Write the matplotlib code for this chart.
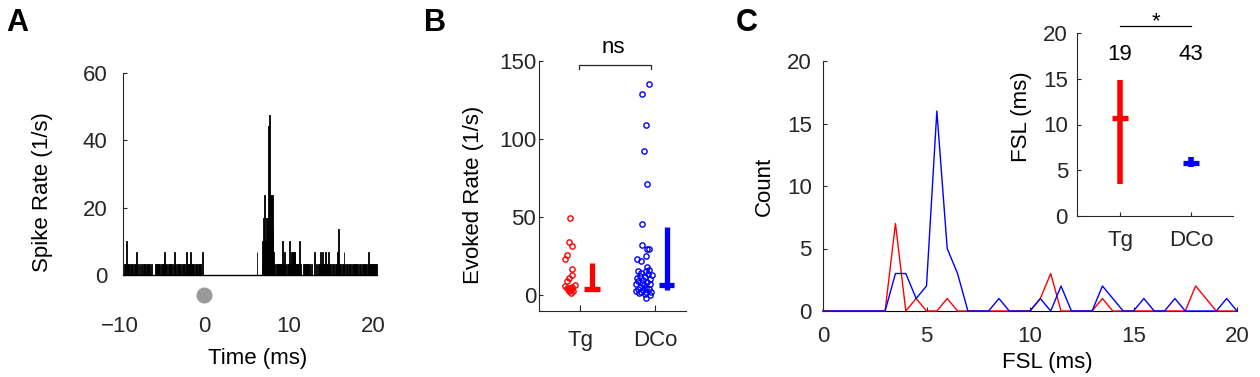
import matplotlib
matplotlib.use('Agg')
import matplotlib.pyplot as plt
import numpy as np

plt.rcParams['font.family'] = ['Liberation Sans', 'DejaVu Sans']
plt.rcParams['axes.edgecolor'] = '#262626'
plt.rcParams['xtick.color'] = '#262626'
plt.rcParams['ytick.color'] = '#262626'
plt.rcParams['axes.linewidth'] = 0.8

RED = '#ff0000'
BLUE = '#0000ff'
TICK_FS = 16
LABEL_FS = 16

# ---- Panel A: PSTH, spikes per 0.1 ms bin (hex digits), one row per ms from -10 to 20
psth_rows = [
    "0000011131",  # -10
    "1101110112",  # -9
    "1101011011",  # -8
    "1011110100",  # -7
    "0011101101",  # -6
    "1112110111",  # -5
    "1101211011",  # -4
    "1110111012",  # -3
    "1112011101",  # -2
    "1101110020",  # -1
    "0000000000",  # 0
    "0000000000",  # 1
    "0000000000",  # 2
    "0000000000",  # 3
    "0000000000",  # 4
    "0000000000",  # 5
    "0020000013",  # 6
    "573545de77",  # 7
    "7421011111",  # 8
    "1131121011",  # 9
    "1312222211",  # 10
    "1131100111",  # 11
    "1111100100",  # 12
    "2010011211",  # 13
    "2112101211",  # 14
    "0111011214",  # 15
    "1101121011",  # 16
    "0111011101",  # 17
    "1101110111",  # 18
    "1101211011",  # 19
    "1111000000",  # 20
]
psth_start = -10.0
psth_bin = 0.1
rate_per_spike = 3.4  # 1/s for one spike in a bin

# ---- Panel B: evoked rates
tg_x = [0.867, 0.857, 0.893, 0.822, 0.796, 0.893, 0.893, 0.857, 0.831, 0.867,
        0.804, 0.938, 0.84, 0.876, 0.893, 0.857, 0.911, 0.884, 0.82]
tg_rate = [49.5, 34.0, 31.6, 25.6, 23.5, 17.1, 12.8, 11.1, 9.4, 4.8,
           6.0, 6.5, 4.3, 3.4, 5.5, 2.6, 2.6, 1.8, 4.5]
dco_x = [1.924, 1.831, 1.876, 1.853, 1.898, 1.831, 1.831, 1.889, 1.924, 1.876,
         1.764, 1.809, 1.898, 1.924, 1.88, 1.773, 1.813, 1.907, 1.96, 1.8,
         1.867, 1.76, 1.84, 1.933, 1.773, 1.827, 1.893, 1.747, 1.853, 1.933,
         1.8, 1.88, 1.773, 1.84, 1.92, 1.747, 1.813, 1.88, 1.947, 1.787,
         1.867, 1.933, 1.876]
dco_rate = [135.4, 129.0, 109.2, 92.3, 71.6, 45.5, 32.0, 29.8, 29.5, 25.2,
            23.5, 22.2, 18.4, 16.5, 15.4, 15.5, 14.2, 14.0, 13.0, 12.5,
            12.0, 11.0, 10.0, 10.5, 9.0, 8.0, 8.5, 7.0, 6.5, 7.0,
            5.5, 5.0, 4.0, 3.5, 4.0, 3.0, 2.5, 2.2, 2.5, 1.5,
            1.2, 0.5, -1.5]
rate_summary_x = [1.164, 2.153]
rate_median = [4.4, 6.4]
rate_low = [3.0, 3.4]
rate_high = [20.5, 43.6]

# ---- Panel C: FSL histograms and summary
fsl_bins = np.arange(0, 20.5, 0.5)
tg_counts = [0, 0, 0, 0, 0, 0, 0, 7, 0, 1, 0, 0, 1, 0, 0, 0, 0, 0, 0, 0,
             0, 1, 3, 0, 0, 0, 0, 1, 0, 0, 0, 0, 0, 0, 0, 0, 2, 1, 0, 0, 0]
dco_counts = [0, 0, 0, 0, 0, 0, 0, 3, 3, 1, 2, 16, 5, 3, 0, 0, 0, 1, 0, 0,
              0, 1, 0, 2, 0, 0, 0, 2, 1, 0, 0, 1, 0, 0, 1, 0, 0, 0, 0, 1, 0]
groups = ['Tg', 'DCo']
group_n = ['19', '43']
fsl_median = [10.75, 5.75]
fsl_low = [3.5, 5.4]
fsl_high = [14.9, 6.4]

W, H = 1260, 377
fig = plt.figure(figsize=(W / 100, H / 100), dpi=100)


def box(left, top, right, bottom):
    return [left / W, 1 - bottom / H, (right - left) / W, (bottom - top) / H]


def strip(ax):
    ax.spines['top'].set_visible(False)
    ax.spines['right'].set_visible(False)


# Panel A
axA = fig.add_axes(box(119.6, 73, 378.2, 312))
counts = np.array([int(c, 16) for row in psth_rows for c in row])
centers = psth_start + psth_bin * (np.arange(len(counts)) + 0.5)
keep = centers > -9.6
axA.bar(centers[keep], counts[keep] * rate_per_spike, width=psth_bin,
        color='k', edgecolor='k', linewidth=0.6)
axA.plot([-9.55, 20.45], [0, 0], color='k', lw=1.0)
axA.plot(0, -6, 'o', ms=10.5, color='#999999', clip_on=False)
axA.set_xlim(-10, 20.6)
axA.set_ylim(-11, 60)
strip(axA)
axA.spines['bottom'].set_visible(False)
axA.spines['left'].set_position(('data', -9.6))
axA.spines['left'].set_bounds(0, 60)
axA.set_xticks([-10, 0, 10, 20])
axA.set_yticks([0, 20, 40, 60])
axA.tick_params(axis='x', length=0, pad=3, labelsize=TICK_FS)
axA.tick_params(axis='y', direction='in', length=3, pad=11, labelsize=TICK_FS)
axA.set_xticklabels(['\u221210', '0', '10', '20'])
axA.set_xlabel('Time (ms)', fontsize=LABEL_FS)
axA.xaxis.set_label_coords(0.535, -0.151)
axA.set_ylabel('Spike Rate (1/s)', fontsize=LABEL_FS)
axA.yaxis.set_label_coords(-0.258, 0.5)

# Panel B
axB = fig.add_axes(box(539, 61.4, 686, 311))
axB.plot(tg_x, tg_rate, 'o', mfc='none', mec=RED, ms=3.8, mew=1.0, clip_on=False)
axB.plot(dco_x, dco_rate, 'o', mfc='none', mec=BLUE, ms=3.8, mew=1.0, clip_on=False)
for x, lo, hi, med, col in zip(rate_summary_x, rate_low, rate_high, rate_median, [RED, BLUE]):
    axB.plot([x, x], [lo, hi], color=col, lw=3.8, solid_capstyle='butt')
    axB.plot([x - 0.105, x + 0.105], [med, med], color=col, lw=3.8, solid_capstyle='butt')
axB.plot([0.98, 0.98, 1.95, 1.95], [144.9, 147.5, 147.5, 144.9], color='#262626',
         lw=0.9, clip_on=False)
axB.text(1.45, 155.6, 'ns', ha='center', va='baseline', fontsize=TICK_FS)
axB.set_xlim(0.453, 2.413)
axB.set_ylim(-10, 150)
strip(axB)
axB.set_xticks([1, 2])
axB.set_xticklabels(groups)
axB.set_yticks([0, 50, 100, 150])
axB.tick_params(axis='x', direction='in', length=4, pad=13.5, labelsize=TICK_FS)
axB.tick_params(axis='y', direction='in', length=3, pad=2, labelsize=TICK_FS)
axB.set_ylabel('Evoked Rate (1/s)', fontsize=LABEL_FS)
axB.yaxis.set_label_coords(-0.375, 0.465)

# Panel C main
axC = fig.add_axes(box(823, 61, 1237, 311))
axC.plot(fsl_bins, tg_counts, color=RED, lw=1.0, clip_on=False, zorder=3)
axC.plot(fsl_bins, dco_counts, color=BLUE, lw=1.0, clip_on=False, zorder=4)
axC.set_xlim(0, 20)
axC.set_ylim(0, 20)
strip(axC)
axC.spines['bottom'].set_color('k')
axC.set_xticks([0, 5, 10, 15, 20])
axC.set_yticks([0, 5, 10, 15, 20])
axC.tick_params(axis='x', direction='in', length=3, pad=11, labelsize=TICK_FS)
axC.tick_params(axis='y', direction='in', length=3, pad=8, labelsize=TICK_FS)
axC.set_xlabel('FSL (ms)', fontsize=LABEL_FS)
axC.xaxis.set_label_coords(0.543, -0.164)
axC.set_ylabel('Count', fontsize=LABEL_FS)
axC.yaxis.set_label_coords(-0.116, 0.5)

# Panel C inset
axI = fig.add_axes(box(1077, 33, 1233, 216))
for x, lo, hi, med, col in zip([1, 2], fsl_low, fsl_high, fsl_median, [RED, BLUE]):
    axI.plot([x, x], [lo, hi], color=col, lw=4.0, solid_capstyle='butt')
    axI.plot([x - 0.115, x + 0.115], [med, med], color=col, lw=3.8, solid_capstyle='butt')
for x, n in zip([1, 2], group_n):
    axI.text(x, 17.1, n, ha='center', va='baseline', fontsize=TICK_FS)
axI.plot([1, 2], [20.8, 20.8], color='k', lw=0.9, clip_on=False)
axI.text(1.5, 20.65, '*', ha='center', va='baseline', fontsize=TICK_FS)
axI.set_xlim(0.394, 2.59)
axI.set_ylim(0, 20)
strip(axI)
axI.set_xticks([1, 2])
axI.set_xticklabels(groups)
axI.set_yticks([0, 5, 10, 15, 20])
axI.tick_params(axis='x', direction='in', length=3, pad=10, labelsize=TICK_FS)
axI.tick_params(axis='y', direction='in', length=3, pad=6.5, labelsize=TICK_FS)
axI.set_ylabel('FSL (ms)', fontsize=LABEL_FS)
axI.yaxis.set_label_coords(-0.29, 0.543)

# Panel letters
for x, letter in [(6, 'A'), (424, 'B'), (736, 'C')]:
    fig.text(x / W, 1 - 31 / H, letter, fontsize=22, fontweight='bold', va='baseline')

fig.savefig('out.png', dpi=100)
